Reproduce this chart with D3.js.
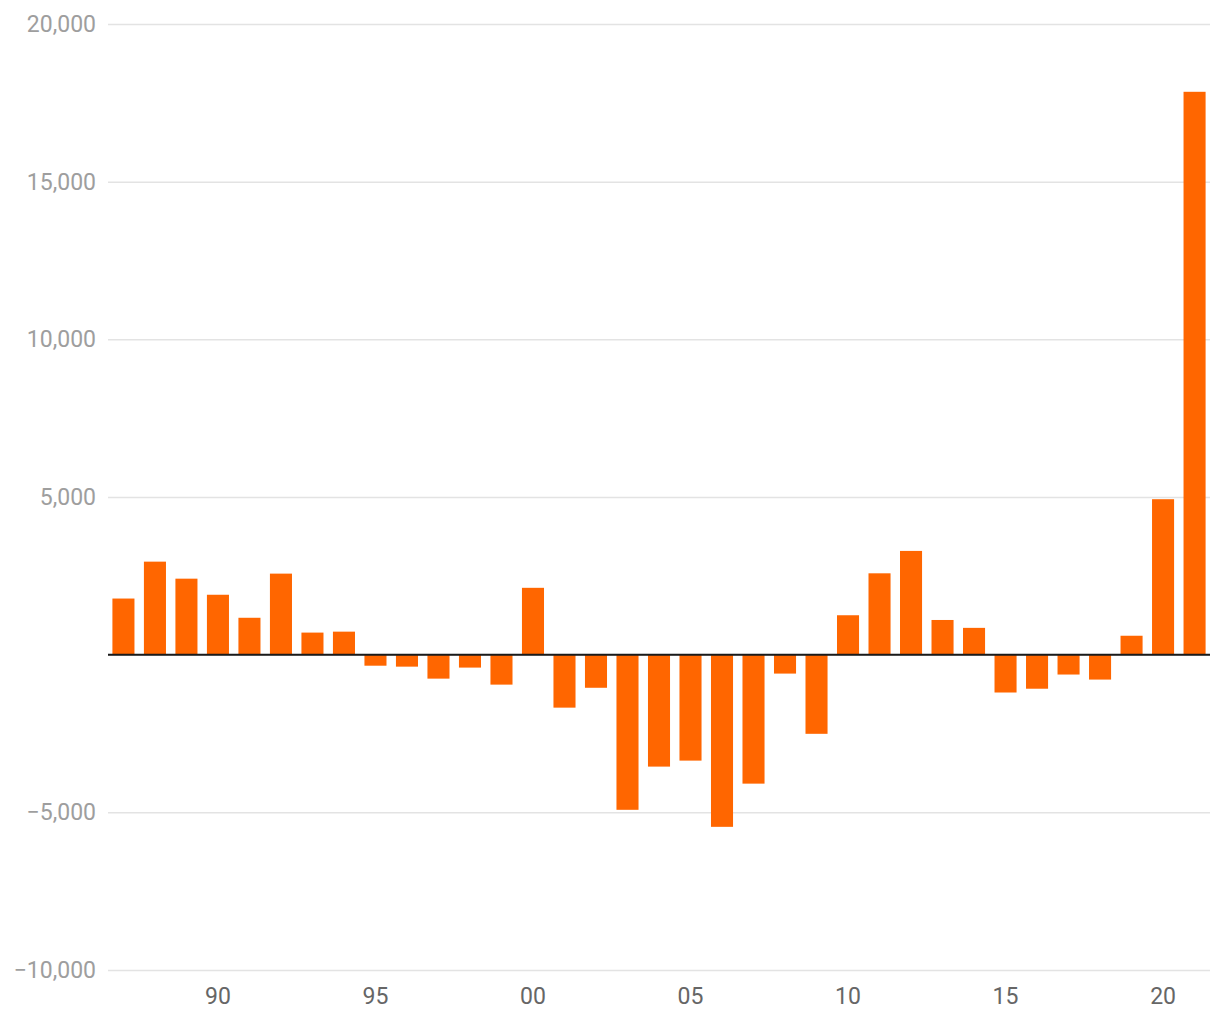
<!DOCTYPE html>
<html>
<head>
<meta charset="utf-8">
<script src="https://cdn.jsdelivr.net/npm/d3@7"></script>
<style>
  body { margin: 0; background: #fff; }
  text { font-family: Roboto, "Noto Sans", sans-serif; }
</style>
</head>
<body>
<script>
// data
var years = d3.range(1987, 2022);
var values = [
  1780, 2950, 2410, 1900, 1170, 2570, 700, 730, -350, -380,
  -760, -410, -950, 2120, -1680, -1050, -4920, -3550, -3360, -5460,
  -4090, -600, -2510, 1250, 2580, 3290, 1100, 850, -1200, -1080,
  -630, -790, 600, 4930, 17850
];
var yTicks = [-10000, -5000, 0, 5000, 10000, 15000, 20000];
var xTickYears = [1990, 1995, 2000, 2005, 2010, 2015, 2020];

var svgWidth = 1220;
var svgHeight = 1020;

var margin = { top: 24, right: 10, bottom: 50, left: 108 };

var width = svgWidth - margin.left - margin.right;
var height = 970 - margin.top;

var svg = d3.select("body")
  .append("svg")
  .attr("width", svgWidth)
  .attr("height", svgHeight);

var chartGroup = svg.append("g")
  .attr("transform", `translate(${margin.left}, ${margin.top})`);

var xScale = d3.scaleBand()
  .domain(years)
  .range([0, width])
  .paddingInner(0.3)
  .paddingOuter(0.14);

var yScale = d3.scaleLinear()
  .domain([-10000, 20000])
  .range([height, 0]);

// gridlines + y labels (no label at zero)
var yAxis = chartGroup.append("g")
  .call(d3.axisLeft(yScale)
    .tickValues(yTicks)
    .tickSize(-width)
    .tickPadding(12)
    .tickFormat(function (d) {
      if (d === 0) return "";
      return d3.format(",")(d).replace("-", "\u2212");
    }));

yAxis.select(".domain").remove();
yAxis.selectAll(".tick line")
  .attr("stroke", "#e3e3e3")
  .attr("stroke-width", 1.5);
yAxis.selectAll(".tick text")
  .attr("fill", "#9e9e9e")
  .attr("font-size", "23px");

// bars
chartGroup.selectAll(".bar")
  .data(values)
  .enter().append("rect")
  .attr("class", "bar")
  .attr("x", function (d, i) { return xScale(years[i]); })
  .attr("width", xScale.bandwidth())
  .attr("y", function (d) { return yScale(Math.max(0, d)); })
  .attr("height", function (d) { return Math.abs(yScale(d) - yScale(0)); })
  .attr("fill", "#ff6600");

// zero line
chartGroup.append("line")
  .attr("x1", 0)
  .attr("x2", width)
  .attr("y1", yScale(0))
  .attr("y2", yScale(0))
  .attr("stroke", "#1a1a1a")
  .attr("stroke-width", 2);

// x labels
var xAxis = chartGroup.append("g")
  .attr("transform", `translate(0, ${height})`)
  .call(d3.axisBottom(xScale)
    .tickValues(xTickYears)
    .tickSize(0)
    .tickPadding(18)
    .tickFormat(function (d) { return String(d).slice(2); }));

xAxis.select(".domain").remove();
xAxis.selectAll(".tick text")
  .attr("fill", "#666")
  .attr("font-size", "23px");
</script>
</body>
</html>
